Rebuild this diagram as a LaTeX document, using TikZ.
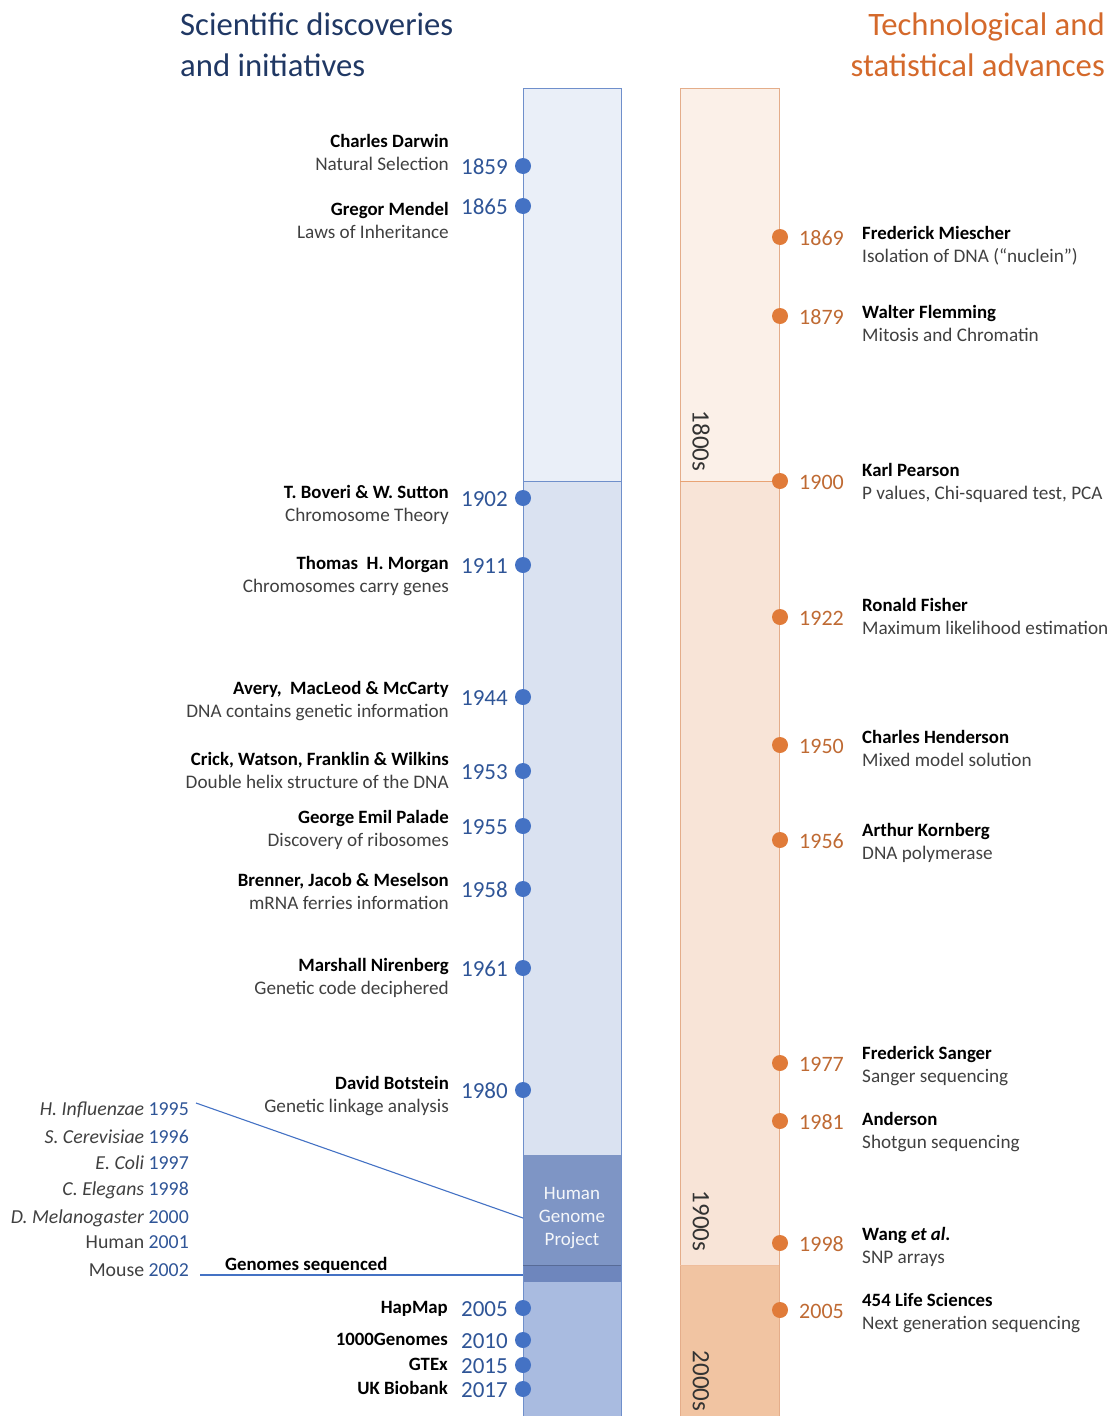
\documentclass[tikz,border=0pt]{standalone}
\usepackage{fontspec}
\setmainfont{Carlito}
\definecolor{dotblue}{HTML}{4472C4}
\definecolor{dotorange}{HTML}{E07B39}
\definecolor{yrblue}{HTML}{2F5597}
\definecolor{yrorange}{HTML}{BF6A33}
\definecolor{titblue}{HTML}{203864}
\definecolor{titorange}{HTML}{D4692B}
\definecolor{bA}{HTML}{EAEFF8}
\definecolor{bB}{HTML}{DAE2F1}
\definecolor{bH}{HTML}{7E95C5}
\definecolor{bS}{HTML}{6E86BD}
\definecolor{bC}{HTML}{A9BBE0}
\definecolor{bL}{HTML}{6F8FCB}
\definecolor{oA}{HTML}{FBF0E8}
\definecolor{oB}{HTML}{F8E4D7}
\definecolor{oC}{HTML}{F1C4A2}
\definecolor{oL}{HTML}{E4AD8A}
\definecolor{descgray}{HTML}{404040}
\begin{document}
\begin{tikzpicture}[x=1pt,y=-1pt,
  nm/.style={font=\fontsize{18.8}{20}\selectfont\bfseries, text=black, inner sep=0, text height=13pt, text depth=4pt},
  ds/.style={font=\fontsize{19.2}{20}\selectfont, text=descgray, inner sep=0, text height=13pt, text depth=4pt},
  byr/.style={font=\fontsize{23}{24}\selectfont, text=yrblue, inner sep=0, text height=15pt, text depth=1pt},
  oyr/.style={font=\fontsize{22}{24}\selectfont, text=yrorange, inner sep=0, text height=15pt, text depth=1pt},
  bdot/.style={circle, fill=dotblue, minimum size=16pt, inner sep=0},
  odot/.style={circle, fill=dotorange, minimum size=16pt, inner sep=0},
  gen/.style={font=\fontsize{19.8}{22}\selectfont, text=descgray, inner sep=0, anchor=east, text height=14pt, text depth=4pt},
  dec/.style={font=\fontsize{25}{26}\selectfont, text=black!80, rotate=-90, inner sep=0},
  tit/.style={font=\fontsize{32.7}{34}\selectfont, inner sep=0, text height=22pt, text depth=6pt},
  conn/.style={draw=dotblue, line width=1.1pt}
]
\useasboundingbox (0,0) rectangle (1111,1416);
% blue column
\fill[bA] (523,88) rectangle (621,481);
\fill[bB] (523,481) rectangle (621,1155);
\fill[bH] (523,1155) rectangle (621,1265);
\fill[bS] (523,1265) rectangle (621,1282);
\fill[bC] (523,1282) rectangle (621,1416);
\draw[bL, line width=1pt] (523,1416) -- (523,88) -- (621,88) -- (621,1416);
\draw[bL, line width=0.8pt] (523,481) -- (621,481);
\draw[bS!80!black, line width=0.8pt] (523,1265) -- (621,1265);
% orange column
\fill[oA] (680,88) rectangle (779,481);
\fill[oB] (680,481) rectangle (779,1265);
\fill[oC] (680,1265) rectangle (779,1416);
\draw[oL, line width=1pt] (680,1416) -- (680,88) -- (779,88) -- (779,1416);
\draw[dotorange!70, line width=0.8pt] (680,481) -- (779,481);
\draw[dotorange!50, line width=0.8pt] (680,1265) -- (779,1265);
\node[dec] (d1800) at (701,441) {1800s};
\node[dec] (d1900) at (701,1221) {1900s};
\node[dec] (d2000) at (701,1381) {2000s};
% titles
\node[tit, text=titblue, anchor=west] (t1) at (180,27) {Scientific discoveries};
\node[tit, text=titblue, anchor=west] (t2) at (180,68) {and initiatives};
\node[tit, text=titorange, anchor=east] (t3) at (1105,27) {Technological and};
\node[tit, text=titorange, anchor=east] (t4) at (1105,68) {statistical advances};
% HGP
\node[font=\fontsize{19}{23}\selectfont, text=white!92!bH, align=center, inner sep=0] (hgp) at (572,1218) {Human\\Genome\\Project};
% left events
\newcommand{\bev}[5]{%
 \node[bdot] (b#2) at (523,#1) {};
 \node[byr, anchor=east] (by#2) at (508,#1+1) {#2};
 \node[nm, anchor=east] (bn#2) at (449,#3+3) {#4};
 \node[ds, anchor=east] (bd#2) at (449,#3+26) {#5};}
\bev{166}{1859}{140}{Charles Darwin}{Natural Selection}
\bev{206}{1865}{208}{Gregor Mendel}{Laws of Inheritance}
\bev{498}{1902}{491}{T. Boveri \& W. Sutton}{Chromosome Theory}
\bev{565}{1911}{562}{Thomas\ \ H. Morgan}{Chromosomes carry genes}
\bev{697}{1944}{687}{Avery,\ \ MacLeod \& McCarty}{DNA contains genetic information}
\bev{771}{1953}{758}{Crick, Watson, Franklin \& Wilkins}{Double helix structure of the DNA}
\bev{826}{1955}{816}{George Emil Palade}{Discovery of ribosomes}
\bev{889}{1958}{879}{Brenner, Jacob \& Meselson}{mRNA ferries information}
\bev{968}{1961}{964}{Marshall Nirenberg}{Genetic code deciphered}
\bev{1090}{1980}{1082}{David Botstein}{Genetic linkage analysis}
\newcommand{\bsh}[3]{%
 \node[bdot] (b#2) at (523,#1) {};
 \node[byr, anchor=east] (by#2) at (508,#1+1) {#2};
 \node[nm, anchor=east] (bn#2) at (448,#1+1) {#3};}
\bsh{1308}{2005}{HapMap}
\bsh{1340}{2010}{1000Genomes}
\bsh{1365}{2015}{GTEx}
\bsh{1389}{2017}{UK Biobank}
% genome list
\node[gen] (g1995) at (189,1110) {\textit{H. Influenzae} \textcolor{yrblue}{1995}};
\node[gen] (g1996) at (189,1138) {\textit{S. Cerevisiae} \textcolor{yrblue}{1996}};
\node[gen] (g1997) at (189,1164) {\textit{E. Coli} \textcolor{yrblue}{1997}};
\node[gen] (g1998) at (189,1190) {\textit{C. Elegans} \textcolor{yrblue}{1998}};
\node[gen] (g2000) at (189,1218) {\textit{D. Melanogaster} \textcolor{yrblue}{2000}};
\node[gen] (g2001) at (189,1243) {Human \textcolor{yrblue}{2001}};
\node[gen] (g2002) at (189,1271) {Mouse \textcolor{yrblue}{2002}};
\node[nm, anchor=west] (gseq) at (225,1266) {Genomes sequenced};
\coordinate (c1a) at (196,1103);
\coordinate (c1b) at (523,1218);
\coordinate (c2a) at (200,1275);
\coordinate (c2b) at (523,1275);
\draw[conn] (c1a) -- (c1b);
\draw[conn] (c2a) -- (c2b);
% right events
\newcommand{\oev}[5]{%
 \node[odot] (o#2) at (780,#1) {};
 \node[oyr, anchor=west] (oy#2) at (799,#1+1) {#2};
 \node[nm, anchor=west] (on#2) at (862,#3+3) {#4};
 \node[ds, anchor=west] (od#2) at (862,#3+26) {#5};}
\oev{237}{1869}{232}{Frederick Miescher}{Isolation of DNA (“nuclein”)}
\oev{316}{1879}{311}{Walter Flemming}{Mitosis and Chromatin}
\oev{481}{1900}{469}{Karl Pearson}{P values, Chi-squared test, PCA}
\oev{617}{1922}{604}{Ronald Fisher}{Maximum likelihood estimation}
\oev{745}{1950}{736}{Charles Henderson}{Mixed model solution}
\oev{840}{1956}{829}{Arthur Kornberg}{DNA polymerase}
\oev{1063}{1977}{1052}{Frederick Sanger}{Sanger sequencing}
\oev{1121}{1981}{1118}{Anderson}{Shotgun sequencing}
\oev{1243}{1998}{1233}{Wang \textit{et al.}}{SNP arrays}
\oev{1310}{2005}{1299}{454 Life Sciences}{Next generation sequencing}
\end{tikzpicture}
\end{document}
